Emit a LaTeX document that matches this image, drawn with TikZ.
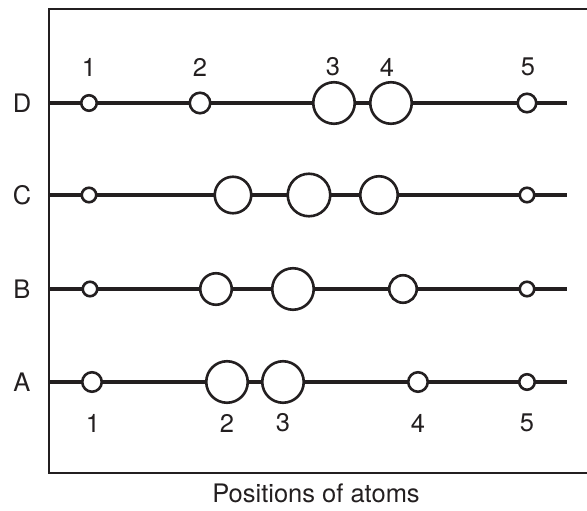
\documentclass[tikz,border=0pt]{standalone}
\usepackage{fontspec}
\setmainfont{TeX Gyre Heros}
\usetikzlibrary{positioning}
\definecolor{atink}{RGB}{35,31,32}
\tikzset{
  atFrame/.style={draw=atink, line width=1.6pt},
  atBond/.style={draw=atink, line width=4pt},
  atAtom/.style={circle, draw=atink, line width=2.6pt, fill=white,
                 inner sep=0pt, minimum size=#1},
  atText/.style={text=atink, inner sep=0pt, font=\fontsize{25.5}{30}\selectfont}
}

\begin{document}
\begin{tikzpicture}[x=1pt,y=-1pt]
  \useasboundingbox (0,0) rectangle (587,511);
  \coordinate (tr) at (587,9);
  \coordinate (bl) at (49,473);
  \coordinate (br) at (587,473);
  \draw[atFrame] (tr) -| (bl) -- (br);

  % row D
  \coordinate (Dl) at (49,103);
  \coordinate (Dr) at (567,103);
  \draw[atBond] (Dl) -- (Dr);
  \node[atAtom=15.5pt] (D1) at (89,103) {};
  \node[atAtom=20.5pt] (D2) at (200,103) {};
  \node[atAtom=41.5pt] (D3) at (334,103) {};
  \node[atAtom=41.5pt] (D4) at (391,103) {};
  \node[atAtom=18.5pt] (D5) at (527,103) {};
  \node[atText] (dn1) at (89,67) {1};
  \node[atText] (dn2) at (200,67) {2};
  \node[atText] (dn3) at (333,67) {3};
  \node[atText] (dn4) at (387,67) {4};
  \node[atText] (dn5) at (528,67) {5};
  \node[atText] (Dlab) at (22,103) {D};

  % row C
  \coordinate (Cl) at (49,195);
  \coordinate (Cr) at (567,195);
  \draw[atBond] (Cl) -- (Cr);
  \node[atAtom=14.5pt] (C1) at (89,195) {};
  \node[atAtom=36.5pt] (C2) at (233,195) {};
  \node[atAtom=42.5pt] (C3) at (309,195) {};
  \node[atAtom=37.5pt] (C4) at (379,195) {};
  \node[atAtom=14.5pt] (C5) at (527,195) {};
  \node[atText] (Clab) at (22,195) {C};

  % row B
  \coordinate (Bl) at (49,289);
  \coordinate (Br) at (567,289);
  \draw[atBond] (Bl) -- (Br);
  \node[atAtom=14.5pt] (B1) at (90,289) {};
  \node[atAtom=31.5pt] (B2) at (216,289) {};
  \node[atAtom=41.5pt] (B3) at (293,289) {};
  \node[atAtom=27.5pt] (B4) at (403,289) {};
  \node[atAtom=14.5pt] (B5) at (527,289) {};
  \node[atText] (Blab) at (22,289) {B};

  % row A
  \coordinate (Al) at (49,382);
  \coordinate (Ar) at (567,382);
  \draw[atBond] (Al) -- (Ar);
  \node[atAtom=19.5pt] (A1) at (92,382) {};
  \node[atAtom=41.5pt] (A2) at (227,382) {};
  \node[atAtom=41.5pt] (A3) at (283,382) {};
  \node[atAtom=19.5pt] (A4) at (418,382) {};
  \node[atAtom=15.5pt] (A5) at (527,382) {};
  \node[atText] (an1) at (93,423) {1};
  \node[atText] (an2) at (227,423) {2};
  \node[atText] (an3) at (283,423) {3};
  \node[atText] (an4) at (418,423) {4};
  \node[atText] (an5) at (527,423) {5};
  \node[atText] (Alab) at (22,382) {A};

  \node[atText] (axis) at (316,493) {Positions of atoms};
\end{tikzpicture}
\end{document}
